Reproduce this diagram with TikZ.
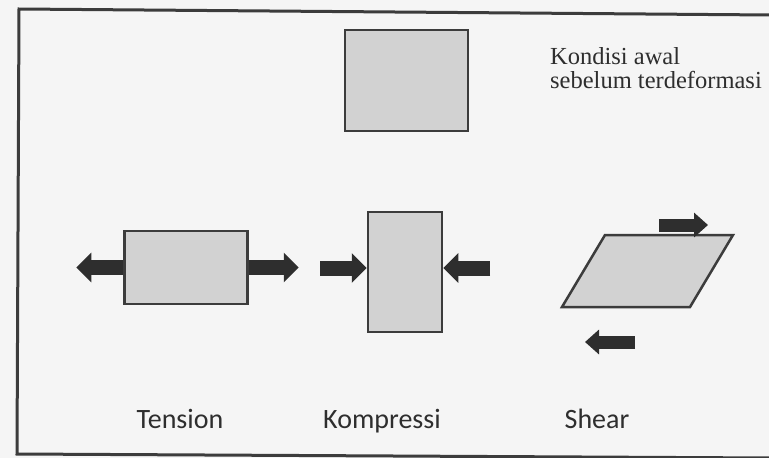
\documentclass[tikz,border=0pt]{standalone}
\usepackage{fontspec}
\setmainfont{Liberation Serif}
\newfontfamily\labelfont{Carlito}
\usetikzlibrary{arrows.meta}
\definecolor{bgc}{HTML}{F5F5F5}
\definecolor{boxfill}{HTML}{D2D2D2}
\definecolor{edgec}{HTML}{3C3C3C}
\definecolor{arrowc}{HTML}{2E2E2E}
\definecolor{txtc}{HTML}{2E2E2E}
\tikzset{
  block/.style={draw=edgec, fill=boxfill, line width=2.5pt, inner sep=0pt},
  force/.style={draw=arrowc, line width=15pt, -{Triangle[length=15pt,width=29pt]}},
  forcesm/.style={draw=arrowc, line width=13pt, -{Triangle[length=14pt,width=24pt]}},
  caption/.style={font=\labelfont\fontsize{28}{32}\selectfont, text=txtc, anchor=base, inner sep=0pt},
  note/.style={font=\fontsize{24.5}{25}\selectfont, text=txtc, anchor=base west, inner sep=0pt},
  frame/.style={draw=edgec, line width=3pt}
}
\begin{document}
\begin{tikzpicture}[x=1pt,y=-1pt]
\fill[bgc] (0,0) rectangle (769,458);
\useasboundingbox (0,0) rectangle (769,458);
% frame (open on the right)
\draw[frame] (771,15) -- (19,9) -- (17,454) -- (771,458);
% initial condition
\node[block, minimum width=123pt, minimum height=101pt] (init) at (406.5,80.5) {};
\node[note] (n1) at (550,64) {Kondisi awal};
\node[note] (n2) at (550,88) {sebelum terdeformasi};
% tension
\node[block, minimum width=123pt, minimum height=73pt] (ten) at (186,267.5) {};
\draw[force] (ten.west) -- ++(-47,0);
\draw[force] (ten.east) -- ++(50,0);
% compression
\node[block, minimum width=74pt, minimum height=120pt] (kom) at (405,272) {};
\coordinate (kl) at (320,268);
\coordinate (kr) at (490,268);
\draw[force] (kl) -- (kl -| kom.west);
\draw[force] (kr) -- (kr -| kom.east);
% shear
\coordinate (s1) at (562,307);
\coordinate (s2) at (690,307);
\coordinate (s3) at (733,235);
\coordinate (s4) at (605,235);
\draw[block, line join=miter] (s1) -- (s2) -- (s3) -- (s4) -- cycle;
\coordinate (st) at (659,225);
\coordinate (sb) at (635,342);
\draw[forcesm] (st) -- ++(49,0);
\draw[forcesm] (sb) -- ++(-50,0);
% captions
\node[caption] (c1) at (180,428) {Tension};
\node[caption] (c2) at (382,428) {Kompressi};
\node[caption] (c3) at (597,428) {Shear};
\end{tikzpicture}
\end{document}
